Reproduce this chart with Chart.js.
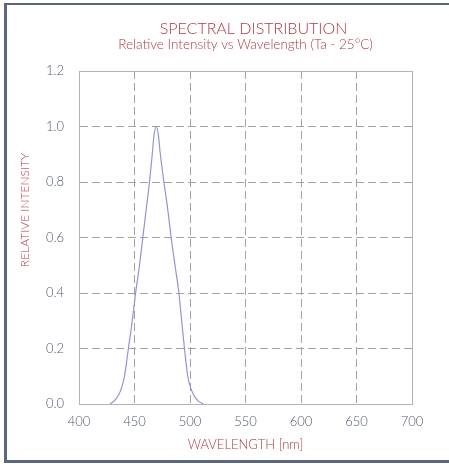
<!DOCTYPE html>
<html>
<head>
<meta charset="utf-8">
<script src="https://cdn.jsdelivr.net/npm/chart.js@4/dist/chart.umd.min.js"></script>
<style>
  html, body { margin: 0; padding: 0; background: #fff; overflow: hidden; }
  .frame {
    position: absolute; left: 4px; top: 3px; width: 470px; height: 455px;
    border-left: 3px solid #5b6782; border-top: 2px solid #5b6782; border-bottom: 3px solid #5b6782;
  }
  .wrap { position: absolute; left: 0; top: 0; width: 449px; height: 464px; }
</style>
</head>
<body>
<div class="frame"></div>
<div class="wrap"><canvas id="spectrum"></canvas></div>
<script>
const titleText = 'SPECTRAL DISTRIBUTION';
const subtitleText = 'Relative Intensity vs Wavelength (Ta - 25°C)';
const xTitle = 'WAVELENGTH [nm]';
const yTitle = 'RELATIVE INTENSITY';

const wavelength = [428, 432, 436, 438.5, 441, 444.5, 448, 451, 454.5, 457.5, 460.5, 463.5, 466, 467.5, 469.5, 471.5, 473, 476.5, 480, 483, 486.5, 490, 492.5, 495, 498, 500.5, 503, 507, 512];
const intensity  = [0, 0.012, 0.035, 0.06, 0.1, 0.2, 0.3, 0.4, 0.5, 0.6, 0.7, 0.8, 0.9, 0.965, 1.0, 0.97, 0.91, 0.8, 0.7, 0.6, 0.5, 0.4, 0.3, 0.2, 0.1, 0.06, 0.035, 0.012, 0];

const xMin = 400, xMax = 700, xStep = 50;
const yMin = 0, yMax = 1.2, yStep = 0.2;

const red = '#ad3a43';
const tickColor = '#4f586d';
const gridColor = '#a2a2a2';
const frameColor = '#b3b3b3';
const fontFamily = 'Lato';

const captions = {
    id: 'captions',
    afterDraw(chart) {
        const {ctx, chartArea} = chart;
        const cx = (chartArea.left + chartArea.right) / 2;
        ctx.save();
        ctx.fillStyle = red;
        ctx.textAlign = 'center';
        ctx.textBaseline = 'middle';
        ctx.font = '300 16px ' + fontFamily;
        ctx.fillText(titleText, cx + 8, chartArea.top - 42);
        ctx.font = '300 13.5px ' + fontFamily;
        ctx.fillText(subtitleText, cx, chartArea.top - 26);
        ctx.font = '300 12px ' + fontFamily;
        ctx.translate(25, chartArea.top + 139);
        ctx.rotate(-Math.PI / 2);
        ctx.fillText(yTitle, 0, 0);
        ctx.restore();
    }
};

const points = wavelength.map((w, i) => ({x: w, y: intensity[i]}));

const ctx = document.getElementById('spectrum').getContext('2d');

new Chart(ctx, {
    type: 'line',
    data: {
        datasets: [{
            data: points,
            borderColor: '#9393d6',
            borderWidth: 1.2,
            pointRadius: 0,
            cubicInterpolationMode: 'monotone',
            fill: false
        }]
    },
    options: {
        responsive: true,
        maintainAspectRatio: false,
        animation: false,
        layout: {
            padding: {top: 71, right: 37, bottom: 0, left: 0}
        },
        plugins: {
            legend: {display: false},
            tooltip: {enabled: false}
        },
        scales: {
            x: {
                type: 'linear',
                min: xMin,
                max: xMax,
                afterFit: s => { s.height = 60; },
                ticks: {
                    stepSize: xStep,
                    padding: 10,
                    color: tickColor,
                    font: {family: fontFamily, size: 13, weight: '300'}
                },
                grid: {
                    drawTicks: false,
                    color: c => (c.tick && (c.tick.value === xMin || c.tick.value === xMax)) ? 'transparent' : gridColor
                },
                border: {display: true, color: frameColor, width: 1, dash: [8, 4]},
                title: {
                    display: true,
                    text: xTitle,
                    color: red,
                    font: {family: fontFamily, size: 13, weight: '300'},
                    padding: {top: 0, bottom: 11}
                }
            },
            y: {
                min: yMin,
                max: yMax,
                afterFit: s => { s.width = 79; },
                ticks: {
                    stepSize: yStep,
                    padding: 15,
                    color: tickColor,
                    font: {family: fontFamily, size: 13, weight: '300'},
                    callback: v => Number(v).toFixed(1)
                },
                grid: {
                    drawTicks: false,
                    color: c => (c.tick && (Math.abs(c.tick.value - yMin) < 1e-6 || Math.abs(c.tick.value - yMax) < 1e-6)) ? 'transparent' : gridColor
                },
                border: {display: true, color: frameColor, width: 1, dash: [8, 4]}
            },
            x2: {
                position: 'top',
                ticks: {display: false},
                grid: {display: false, drawTicks: false},
                border: {display: true, color: frameColor, width: 1}
            },
            y2: {
                position: 'right',
                ticks: {display: false},
                grid: {display: false, drawTicks: false},
                border: {display: true, color: frameColor, width: 1}
            }
        }
    },
    plugins: [captions]
});
</script>
</body>
</html>
